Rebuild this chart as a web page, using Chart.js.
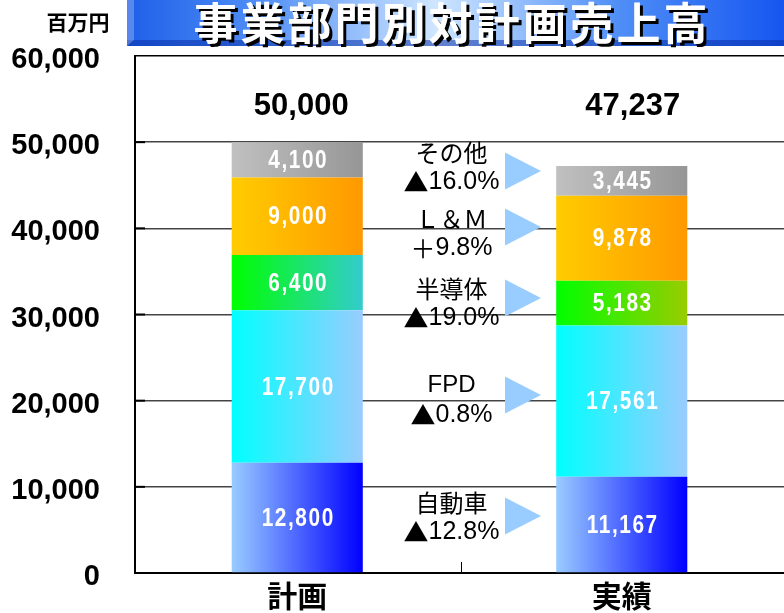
<!DOCTYPE html>
<html>
<head>
<meta charset="utf-8">
<script src="https://cdn.jsdelivr.net/npm/chart.js@4"></script>
<style>
html, body { margin: 0; padding: 0; background: #fff; overflow: hidden; }
</style>
</head>
<body>
<canvas id="myChart" width="784" height="613"></canvas>
<script>
// datos (百万円)
var categories = ['計画', '実績'];
var segments = ['自動車', 'FPD', '半導体', 'Ｌ＆Ｍ', 'その他'];
var planValues = [12800, 17700, 6400, 9000, 4100];
var actualValues = [11167, 17561, 5183, 9878, 3445];
var totals = [50000, 47237];
var changes = ['▲12.8%', '▲0.8%', '▲19.0%', '＋9.8%', '▲16.0%'];
var yMax = 60000;
var yStep = 10000;

var title = '事業部門別対計画売上高';
var unitLabel = '百万円';

// layout of the notes between the bars (in y units)
var noteLevels = [6440, 20075, 31275, 39400, 47060];
var arrowLevels = [6615, 20660, 31910, 40150, 46650];
var totalLevel = 54100;

// colores
var colorStart = ['#99ccff', '#00ffff', '#00ff00', '#ffcc00', '#c0c0c0'];
var colorEnd = [
    ['#0000ff', '#0000ff'],
    ['#99ccff', '#99ccff'],
    ['#33cccc', '#99cc00'],
    ['#ff9900', '#ff9900'],
    ['#969696', '#969696']
];
var BAR_PCT = 0.404;

function fmt(v) {
    return v.toLocaleString('en-US');
}

function barFill(i) {
    return function(c) {
        var chart = c.chart;
        var xs = chart.scales.x;
        if (!chart.chartArea || !xs || c.dataIndex === undefined) return colorStart[i];
        var cx = xs.getPixelForValue(c.dataIndex);
        var half = xs.width / categories.length * BAR_PCT / 2;
        var g = chart.ctx.createLinearGradient(cx - half, 0, cx + half, 0);
        g.addColorStop(0, colorStart[i]);
        g.addColorStop(1, colorEnd[i][c.dataIndex]);
        return g;
    };
}

// texto mixto: simbolos y kana con fuente CJK, digitos con Liberation Sans
function drawMixed(ctx, text, cx, cy, size) {
    var runs = [];
    for (var ch of text) {
        var cjk = ch.charCodeAt(0) > 0x2000;
        var font = size + 'px ' + (cjk ? '"Noto Sans CJK JP"' : '"Liberation Sans"');
        if (runs.length && runs[runs.length - 1].font === font) runs[runs.length - 1].t += ch;
        else runs.push({ font: font, t: ch });
    }
    var total = 0;
    runs.forEach(function(r) { ctx.font = r.font; r.w = ctx.measureText(r.t).width; total += r.w; });
    var x = cx - total / 2;
    ctx.textAlign = 'left';
    runs.forEach(function(r) { ctx.font = r.font; ctx.fillText(r.t, x, cy); x += r.w; });
    ctx.textAlign = 'center';
}

var datasets = [];
for (var i = 0; i < segments.length; i++) {
    datasets.push({
        label: segments[i],
        data: [planValues[i], actualValues[i]],
        backgroundColor: barFill(i),
        borderWidth: 0,
        barPercentage: BAR_PCT,
        categoryPercentage: 1
    });
}

var decoPlugin = {
    id: 'deco',
    beforeDraw: function(chart) {
        var ctx = chart.ctx;
        ctx.save();
        // banner
        var g = ctx.createLinearGradient(127, 0, 784, 0);
        g.addColorStop(0, '#1f5fe8');
        g.addColorStop(0.2, '#4f8ef6');
        g.addColorStop(0.47, '#cfe6ff');
        g.addColorStop(0.75, '#4f8ef6');
        g.addColorStop(1, '#1656f0');
        ctx.fillStyle = g;
        ctx.fillRect(127, 0, 657, 46);
        ctx.fillStyle = 'rgba(10,50,170,0.55)';
        ctx.fillRect(127, 40, 657, 6);
        ctx.fillStyle = 'rgba(255,255,255,0.25)';
        ctx.beginPath();
        ctx.moveTo(127, 0); ctx.lineTo(134, 0); ctx.lineTo(134, 40); ctx.lineTo(127, 46);
        ctx.closePath();
        ctx.fill();
        // title
        ctx.font = 'bold 44px "Noto Sans CJK JP"';
        ctx.letterSpacing = '3px';
        ctx.textAlign = 'center';
        ctx.textBaseline = 'middle';
        ctx.fillStyle = '#000';
        ctx.fillText(title, 455, 26);
        ctx.fillStyle = '#fff';
        ctx.fillText(title, 452, 23);
        ctx.letterSpacing = '0px';
        // unit
        ctx.font = 'bold 21px "Noto Sans CJK JP"';
        ctx.fillStyle = '#000';
        ctx.fillText(unitLabel, 78, 22);
        ctx.restore();
    },
    afterDatasetsDraw: function(chart) {
        var ctx = chart.ctx;
        var xs = chart.scales.x, ys = chart.scales.y;
        var area = chart.chartArea;
        ctx.save();
        // short inward ticks
        ctx.strokeStyle = '#000';
        ctx.lineWidth = 2;
        for (var v = yStep; v < yMax; v += yStep) {
            var py = ys.getPixelForValue(v);
            ctx.beginPath(); ctx.moveTo(area.left, py); ctx.lineTo(area.left + 10, py); ctx.stroke();
        }
        var mid = (xs.getPixelForValue(0) + xs.getPixelForValue(1)) / 2;
        ctx.lineWidth = 1;
        ctx.beginPath(); ctx.moveTo(mid + 2, area.bottom); ctx.lineTo(mid + 2, area.bottom - 11); ctx.stroke();

        // segment values (condensed)
        ctx.fillStyle = '#fff';
        ctx.textAlign = 'center';
        ctx.textBaseline = 'middle';
        ctx.font = 'bold 26px "Liberation Sans"';
        ctx.letterSpacing = '2px';
        chart.data.datasets.forEach(function(ds, di) {
            chart.getDatasetMeta(di).data.forEach(function(bar, k) {
                ctx.save();
                ctx.translate(bar.x + 1, (bar.y + bar.base) / 2 + 1);
                ctx.scale(0.8, 1);
                ctx.fillText(fmt(ds.data[k]), 0, 0);
                ctx.restore();
            });
        });
        ctx.letterSpacing = '0px';

        // totals
        ctx.fillStyle = '#000';
        ctx.font = 'bold 31px "Liberation Sans"';
        totals.forEach(function(t, k) {
            ctx.fillText(fmt(t), xs.getPixelForValue(k) + (k === 0 ? 4 : 11), ys.getPixelForValue(totalLevel));
        });

        // notes and arrows
        for (var s = 0; s < segments.length; s++) {
            var ny = ys.getPixelForValue(noteLevels[s]);
            ctx.fillStyle = '#000';
            drawMixed(ctx, segments[s], mid - 8, ny - 15, 24);
            drawMixed(ctx, changes[s], mid - 8, ny + 15, 25);
            var ay = ys.getPixelForValue(arrowLevels[s]);
            ctx.fillStyle = '#99ccff';
            ctx.beginPath();
            ctx.moveTo(mid + 45.5, ay - 18.5);
            ctx.lineTo(mid + 81.5, ay);
            ctx.lineTo(mid + 45.5, ay + 18.5);
            ctx.closePath();
            ctx.fill();
        }
        ctx.restore();
    }
};

const config = {
    type: 'bar',
    data: { labels: categories, datasets: datasets },
    options: {
        responsive: false,
        animation: false,
        devicePixelRatio: 1,
        layout: { padding: { top: 56, left: 0, right: 0, bottom: 0 } },
        plugins: { legend: { display: false }, tooltip: { enabled: false } },
        scales: {
            x: {
                stacked: true,
                grid: { display: false, drawTicks: false },
                border: { color: '#000', width: 2 },
                ticks: { color: '#000', padding: 5, font: { family: '"Noto Sans CJK JP"', size: 30, weight: 'bold' } },
                afterFit: function(s) { s.height = 40; }
            },
            y: {
                stacked: true,
                min: 0,
                max: yMax,
                ticks: {
                    stepSize: yStep,
                    color: '#000',
                    padding: 0,
                    labelOffset: 4,
                    font: { family: '"Liberation Sans"', size: 29, weight: 'bold' },
                    callback: function(v) { return fmt(v); }
                },
                grid: {
                    drawTicks: true,
                    tickLength: 35,
                    tickColor: 'rgba(0,0,0,0)',
                    lineWidth: 1.5,
                    color: function(c) { return c.tick && c.tick.value === yMax ? '#000' : '#444'; }
                },
                border: { color: '#000', width: 2 },
                afterFit: function(s) { s.width = 135; }
            }
        }
    },
    plugins: [decoPlugin]
};

const myChart = new Chart(document.getElementById('myChart'), config);
</script>
</body>
</html>
